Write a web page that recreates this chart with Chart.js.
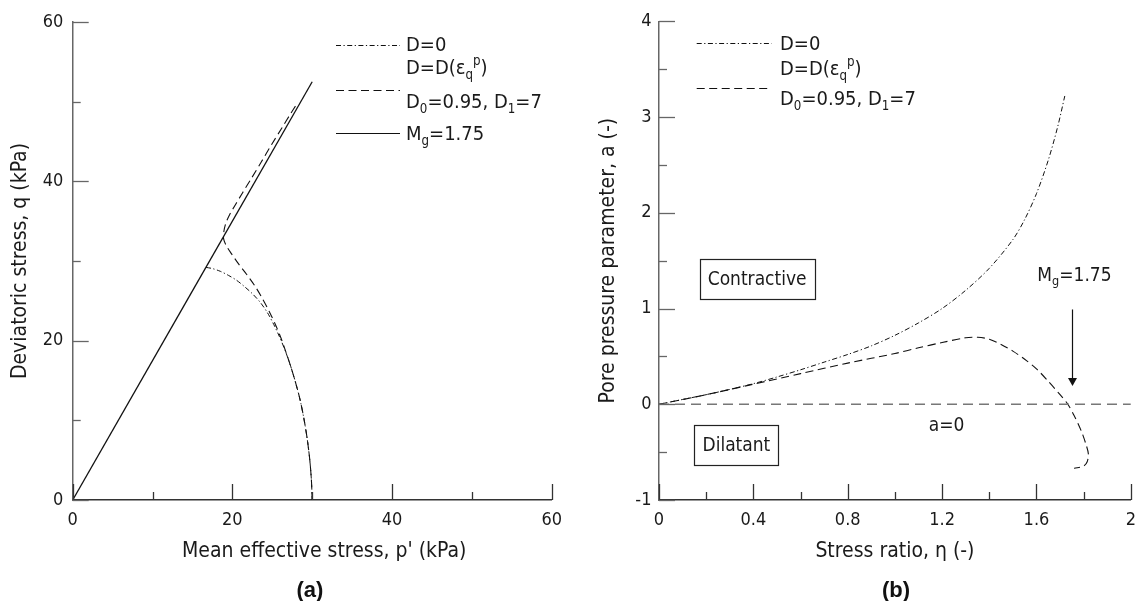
<!DOCTYPE html>
<html>
<head>
<meta charset="utf-8">
<script src="https://cdn.jsdelivr.net/npm/chart.js@4.4.1/dist/chart.umd.min.js"></script>
<style>
  html, body { margin: 0; padding: 0; background: #fff; }
  #figure { position: relative; width: 1146px; height: 601px; overflow: hidden; background: #fff; }
  #figure canvas { position: absolute; top: 0; }
  .tag { position: absolute; width: 80px; text-align: center; line-height: 26px;
         font: bold 22px "Liberation Sans", Arial, sans-serif; color: #111; }
</style>
</head>
<body>
<div id="figure">
  <canvas id="panelA" width="573" height="601" style="left:0"></canvas>
  <canvas id="panelB" width="573" height="601" style="left:573px"></canvas>
  <div class="tag" style="left:270px; top:577px">(a)</div>
  <div class="tag" style="left:856px; top:577px">(b)</div>
</div>
<script>
// ---------- (a) effective stress paths, p' - q ----------
const mgLineP = [0, 30];
const mgLineQ = [0, 52.5];

const d0PathP = [16.7, 17.5, 18.5, 19.5, 20.5, 21.5, 22.5, 23.5, 24.4, 25.2, 25.9, 26.6, 27.3, 27.9, 28.5, 29.0, 29.4, 29.7, 29.9, 30.0];
const d0PathQ = [29.2, 29.05, 28.7, 28.2, 27.6, 26.8, 25.9, 24.8, 23.5, 22.0, 20.5, 18.8, 16.8, 14.8, 12.5, 10.0, 7.5, 5.0, 2.5, 0];

const dEpsPathP = [30.0, 29.9, 29.7, 29.4, 29.0, 28.5, 27.9, 27.3, 26.7, 26.1, 25.4, 24.6, 23.7, 22.8, 21.8, 20.8, 19.9, 19.2, 18.9,
                   18.95, 19.2, 19.7, 20.4, 21.3, 22.4, 23.6, 24.9, 26.2, 27.3, 28.0];
const dEpsPathQ = [0, 2.5, 5.0, 7.5, 10.0, 12.5, 14.8, 16.8, 18.6, 20.3, 22.0, 23.7, 25.4, 26.9, 28.3, 29.6, 30.9, 32.0, 32.8,
                   33.8, 34.8, 35.9, 37.1, 38.6, 40.4, 42.4, 44.6, 46.7, 48.5, 49.6];

const pTicks = [0, 10, 20, 30, 40, 50, 60];
const pTickLabels = ['0', '', '20', '', '40', '', '60'];
const qTicks = [0, 10, 20, 30, 40, 50, 60];
const qTickLabels = ['0', '', '20', '', '40', '', '60'];

// ---------- (b) pore pressure parameter against stress ratio ----------
const d0Eta = [0, 0.1, 0.2, 0.3, 0.4, 0.5, 0.6, 0.7, 0.8, 0.9, 1.0, 1.1, 1.2, 1.3, 1.4, 1.5, 1.55, 1.6, 1.65, 1.69, 1.72];
const d0A   = [0, 0.05, 0.10, 0.155, 0.215, 0.285, 0.36, 0.44, 0.52, 0.61, 0.72, 0.85, 1.0, 1.19, 1.42, 1.72, 1.93, 2.2, 2.55, 2.9, 3.22];

const dEpsEta = [0, 0.2, 0.4, 0.6, 0.8, 1.0, 1.1, 1.2, 1.3, 1.35, 1.4, 1.45, 1.5, 1.55, 1.6, 1.65, 1.7, 1.733, 1.76, 1.79, 1.81, 1.82, 1.815, 1.80, 1.76];
const dEpsA   = [0, 0.10, 0.21, 0.32, 0.43, 0.53, 0.59, 0.645, 0.695, 0.70, 0.68, 0.625, 0.555, 0.47, 0.37, 0.24, 0.10, 0, -0.12, -0.28, -0.42, -0.52, -0.60, -0.645, -0.67];

const zeroLineEta = [0, 2];
const zeroLineA = [0, 0];

const etaTicks = [0, 0.2, 0.4, 0.6, 0.8, 1.0, 1.2, 1.4, 1.6, 1.8, 2.0];
const etaTickLabels = ['0', '', '0.4', '', '0.8', '', '1.2', '', '1.6', '', '2'];
const aTicks = [-1, -0.5, 0, 0.5, 1, 1.5, 2, 2.5, 3, 3.5, 4];
const aTickLabels = ['-1', '', '0', '', '1', '', '2', '', '3', '', '4'];

// critical stress ratio marker
const mgRatio = 1.75;
const mgArrowFromA = 0.99;
const mgArrowToA = 0.19;

// ---------- shared look ----------
const FAMILY = "'DejaVu Sans Condensed', 'DejaVu Sans', sans-serif";
const INK = '#1a1a1a';
const DASH_DOT = [5, 2.5, 1.2, 2.5];
const DASHED = [8, 4.5];

Chart.defaults.font.family = FAMILY;
Chart.defaults.color = INK;
Chart.defaults.animation = false;

const toPoints = (xs, ys) => xs.map((x, i) => ({ x, y: ys[i] }));

function pathDataset(xs, ys, dash, width) {
  return {
    data: toPoints(xs, ys),
    showLine: true,
    borderColor: '#111',
    borderWidth: width,
    borderDash: dash,
    pointRadius: 0,
    tension: 0.3,
    fill: false
  };
}

function axis(cfg) {
  const horizontal = cfg.position === 'bottom';
  return {
    type: 'linear',
    position: cfg.position,
    min: cfg.min,
    max: cfg.max,
    afterBuildTicks: s => { s.ticks = cfg.values.map(v => ({ value: v })); },
    afterFit: s => { if (horizontal) s.height = cfg.size; else s.width = cfg.size; },
    grid: { display: false, drawTicks: false },
    border: { display: true, color: cfg.borderColor, width: 1.5 },
    ticks: {
      autoSkip: false, maxRotation: 0, minRotation: 0,
      padding: cfg.labelPad,
      font: { size: 18 }, color: INK,
      callback: (v, i) => cfg.labels[i]
    },
    title: { display: false }
  };
}

// axis captions, placed relative to the plotting area
const axisCaptions = {
  id: 'axisCaptions',
  afterDraw(chart, args, opts) {
    const { ctx, chartArea } = chart;
    ctx.save();
    ctx.fillStyle = INK;
    ctx.font = `${opts.size}px ${FAMILY}`;
    ctx.textAlign = 'center';
    ctx.textBaseline = 'middle';
    const cx = (chartArea.left + chartArea.right) / 2 + opts.xShift;
    ctx.fillText(opts.x, cx, opts.xTitleY);
    const cy = (chartArea.top + chartArea.bottom) / 2 + opts.yShift;
    ctx.translate(opts.yTitleX, cy);
    ctx.rotate(-Math.PI / 2);
    ctx.fillText(opts.y, 0, 0);
    ctx.restore();
  }
};

// ticks point into the plotting area: long at labelled values, short between
const inwardTicks = {
  id: 'inwardTicks',
  afterDatasetsDraw(chart, args, opts) {
    const { ctx, chartArea, scales } = chart;
    ctx.save();
    ctx.lineWidth = 1.3;
    ctx.strokeStyle = opts.xColor;
    opts.x.values.forEach((v, i) => {
      const px = Math.round(scales.x.getPixelForValue(v)) + 0.5;
      const len = opts.x.labels[i] !== '' ? opts.major : opts.minor;
      ctx.beginPath();
      ctx.moveTo(px, chartArea.bottom);
      ctx.lineTo(px, chartArea.bottom - len);
      ctx.stroke();
    });
    ctx.strokeStyle = opts.yColor;
    opts.y.values.forEach((v, i) => {
      const py = Math.round(scales.y.getPixelForValue(v)) + 0.5;
      const len = opts.y.labels[i] !== '' ? opts.major : opts.minor;
      ctx.beginPath();
      ctx.moveTo(chartArea.left, py);
      ctx.lineTo(chartArea.left + len, py);
      ctx.stroke();
    });
    ctx.restore();
  }
};

// text runs with subscripts and superscripts
function drawRuns(ctx, x, y, runs, size) {
  let cx = x;
  ctx.textBaseline = 'middle';
  ctx.textAlign = 'left';
  runs.forEach(r => {
    const fs = r.s ? size * 0.66 : size;
    const dy = r.s === 'sub' ? size * 0.32 : (r.s === 'sup' ? -size * 0.36 : 0);
    ctx.font = `${fs}px ${FAMILY}`;
    ctx.fillText(r.t, cx, y + dy);
    cx += ctx.measureText(r.t).width;
  });
  return cx - x;
}

const keyPanel = {
  id: 'keyPanel',
  afterDraw(chart, args, opts) {
    const { ctx } = chart;
    ctx.save();
    ctx.fillStyle = INK;
    opts.entries.forEach(e => {
      ctx.beginPath();
      ctx.setLineDash(e.dash);
      ctx.lineWidth = 1.1;
      ctx.strokeStyle = '#111';
      ctx.moveTo(opts.lineStart, e.lineY);
      ctx.lineTo(opts.lineEnd, e.lineY);
      ctx.stroke();
      ctx.setLineDash([]);
      e.rows.forEach(row => drawRuns(ctx, opts.textX, row.y, row.runs, opts.size));
    });
    ctx.restore();
  }
};

const regionNotes = {
  id: 'regionNotes',
  afterDraw(chart, args, opts) {
    const { ctx, scales: { x, y } } = chart;
    ctx.save();
    ctx.fillStyle = INK;
    ctx.font = `${opts.size}px ${FAMILY}`;
    opts.boxes.forEach(b => {
      const cx = x.getPixelForValue(b.eta), cy = y.getPixelForValue(b.a);
      const w = ctx.measureText(b.text).width + 2 * opts.boxPadX;
      const h = opts.boxHeight;
      ctx.lineWidth = 1.2;
      ctx.strokeStyle = '#222';
      ctx.strokeRect(Math.round(cx - w / 2) + 0.5, Math.round(cy - h / 2) + 0.5, Math.round(w), h);
      ctx.textAlign = 'center';
      ctx.textBaseline = 'middle';
      ctx.fillText(b.text, cx, cy + 1);
    });
    opts.labels.forEach(l => {
      const cx = x.getPixelForValue(l.eta), cy = y.getPixelForValue(l.a);
      let w = 0;
      l.runs.forEach(r => { ctx.font = `${r.s ? opts.size * 0.66 : opts.size}px ${FAMILY}`; w += ctx.measureText(r.t).width; });
      drawRuns(ctx, cx - w / 2, cy, l.runs, opts.size);
    });
    // arrow pointing at the critical stress ratio
    const ar = opts.arrow;
    const ax = Math.round(x.getPixelForValue(ar.eta)) + 0.5;
    const y0 = y.getPixelForValue(ar.from), y1 = y.getPixelForValue(ar.to);
    ctx.strokeStyle = '#111';
    ctx.lineWidth = 1.2;
    ctx.beginPath();
    ctx.moveTo(ax, y0);
    ctx.lineTo(ax, y1 - ar.head);
    ctx.stroke();
    ctx.beginPath();
    ctx.moveTo(ax - ar.half, y1 - ar.head);
    ctx.lineTo(ax + ar.half, y1 - ar.head);
    ctx.lineTo(ax, y1);
    ctx.closePath();
    ctx.fillStyle = '#111';
    ctx.fill();
    ctx.restore();
  }
};

const curveRuns = [{ t: 'D=D(' }, { t: 'ε' }, { t: 'q', s: 'sub' }, { t: 'p', s: 'sup' }, { t: ')' }];
const paramRuns = [{ t: 'D' }, { t: '0', s: 'sub' }, { t: '=0.95, D' }, { t: '1', s: 'sub' }, { t: '=7' }];
const mgRuns = [{ t: 'M' }, { t: 'g', s: 'sub' }, { t: '=1.75' }];

// ---------- panel (a) ----------
new Chart(document.getElementById('panelA'), {
  type: 'scatter',
  data: {
    datasets: [
      pathDataset(mgLineP, mgLineQ, [], 1.3),
      pathDataset(d0PathP, d0PathQ, DASH_DOT, 1.0),
      pathDataset(dEpsPathP, dEpsPathQ, DASHED, 1.1)
    ]
  },
  options: {
    responsive: false,
    layout: { padding: { left: 0, right: 21.3, top: 22, bottom: 36 } },
    plugins: {
      legend: { display: false },
      tooltip: { enabled: false },
      axisCaptions: {
        x: "Mean effective stress, p' (kPa)", y: 'Deviatoric stress, q (kPa)',
        size: 21, xShift: 12, xTitleY: 552, yShift: 0, yTitleX: 21
      },
      inwardTicks: {
        x: { values: pTicks, labels: pTickLabels },
        y: { values: qTicks, labels: qTickLabels },
        major: 16, minor: 8, xColor: '#333', yColor: '#666'
      },
      keyPanel: {
        lineStart: 336, lineEnd: 400, textX: 406, size: 20,
        entries: [
          { dash: DASH_DOT, lineY: 45.5, rows: [{ y: 46, runs: [{ t: 'D=0' }] }] },
          { dash: DASHED, lineY: 90.5, rows: [{ y: 69, runs: curveRuns }, { y: 103, runs: paramRuns }] },
          { dash: [], lineY: 133.5, rows: [{ y: 135, runs: mgRuns }] }
        ]
      }
    },
    scales: {
      x: axis({ position: 'bottom', min: 0, max: 60, values: pTicks, labels: pTickLabels,
                size: 65, labelPad: 10, borderColor: '#333' }),
      y: axis({ position: 'left', min: 0, max: 60, values: qTicks, labels: qTickLabels,
                size: 72.7, labelPad: 9.4, borderColor: '#666' })
    }
  },
  plugins: [axisCaptions, inwardTicks, keyPanel]
});

// ---------- panel (b) ----------
const zeroLine = pathDataset(zeroLineEta, zeroLineA, [10, 6], 1.6);
zeroLine.borderColor = '#777';
zeroLine.tension = 0;

new Chart(document.getElementById('panelB'), {
  type: 'scatter',
  data: {
    datasets: [
      zeroLine,
      pathDataset(d0Eta, d0A, DASH_DOT, 1.0),
      pathDataset(dEpsEta, dEpsA, DASHED, 1.1)
    ]
  },
  options: {
    responsive: false,
    layout: { padding: { left: 0, right: 8.7, top: 21.3, bottom: 36 } },
    plugins: {
      legend: { display: false },
      tooltip: { enabled: false },
      axisCaptions: {
        x: 'Stress ratio, η (-)', y: 'Pore pressure parameter, a (-)',
        size: 21, xShift: 0, xTitleY: 552, yShift: 0, yTitleX: 35.3
      },
      inwardTicks: {
        x: { values: etaTicks, labels: etaTickLabels },
        y: { values: aTicks, labels: aTickLabels },
        major: 16, minor: 8, xColor: '#333', yColor: '#666'
      },
      keyPanel: {
        lineStart: 123.7, lineEnd: 198.7, textX: 207, size: 20,
        entries: [
          { dash: DASH_DOT, lineY: 43.5, rows: [{ y: 44.7, runs: [{ t: 'D=0' }] }] },
          { dash: DASHED, lineY: 88.5, rows: [{ y: 70, runs: curveRuns }, { y: 100, runs: paramRuns }] }
        ]
      },
      regionNotes: {
        size: 19, boxPadX: 8, boxHeight: 40,
        boxes: [
          { eta: 0.416, a: 1.306, text: 'Contractive' },
          { eta: 0.328, a: -0.428, text: 'Dilatant' }
        ],
        labels: [
          { eta: 1.219, a: -0.227, runs: [{ t: 'a=0' }] },
          { eta: 1.761, a: 1.34, runs: mgRuns }
        ],
        arrow: { eta: mgRatio, from: mgArrowFromA, to: mgArrowToA, head: 8, half: 4.5 }
      }
    },
    scales: {
      x: axis({ position: 'bottom', min: 0, max: 2, values: etaTicks, labels: etaTickLabels,
                size: 65, labelPad: 10, borderColor: '#333' }),
      y: axis({ position: 'left', min: -1, max: 4, values: aTicks, labels: aTickLabels,
                size: 86, labelPad: 7.5, borderColor: '#666' })
    }
  },
  plugins: [axisCaptions, inwardTicks, keyPanel, regionNotes]
});
</script>
</body>
</html>
